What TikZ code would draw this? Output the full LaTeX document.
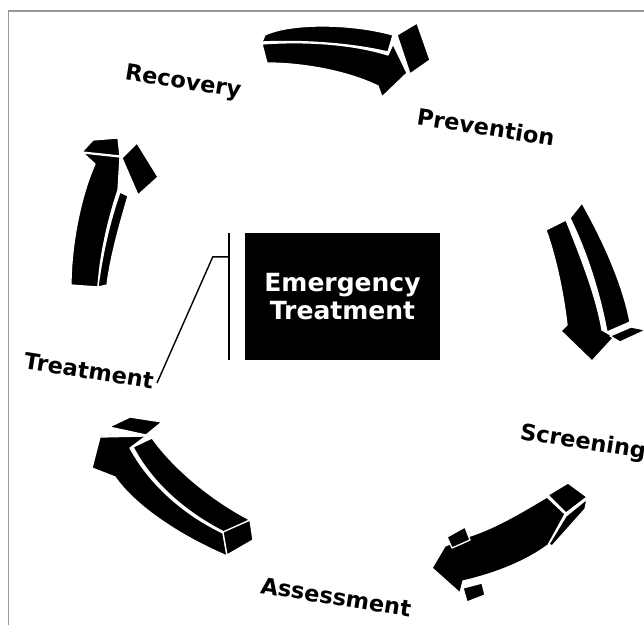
\documentclass[tikz,border=0pt]{standalone}
\usepackage{fontspec}
\setmainfont{DejaVu Sans}
\usetikzlibrary{positioning}
\tikzset{
    centerbox/.style = {rectangle, fill=black, text=white, minimum width=195pt, minimum height=127pt, inner sep=0pt, align=center, font=\bfseries\fontsize{25}{28}\selectfont},
    cyclabel/.style = {inner sep=0pt, rotate=-9, font=\bfseries\fontsize{22.5}{26}\selectfont},
    face/.style = {fill=black, draw=white, line width=1.3pt, line join=round},
    bracket/.style = {line width=1.4pt, black}
}
\begin{document}
\begin{tikzpicture}[x=1pt,y=-1pt]
    \useasboundingbox (0,0) rectangle (644,624);
    \fill[white] (0,0) rectangle (644,624);
    \draw[gray!80, line width=1.2pt] (8.5,11) rectangle (700,700);

    % top arrow
    \path[face] (265,35) .. controls (290,23) and (350,23) .. (393,35) -- (388,52) .. controls (350,43) and (300,40) .. (262,42) -- cycle;
    \path[face] (262,44) .. controls (300,41) and (350,43) .. (388,55) -- (393,44) -- (407,73) -- (382,97) -- (378,86) .. controls (345,70) and (300,63) .. (267,63) -- cycle;
    \path[face] (397,35) -- (417,23) -- (430,60) -- (410,74) -- cycle;

    % right arrow
    \path[face] (546,230) -- (566,220) .. controls (580,255) and (596,295) .. (602,330) -- (614,337) -- (592,361) -- (561,331) -- (567,325) .. controls (563,290) and (555,255) .. (546,230) -- cycle;
    \path[face] (570,218) -- (582,203) .. controls (600,235) and (622,280) .. (630,322) -- (607,332) .. controls (600,295) and (588,255) .. (570,218) -- cycle;
    \path[face] (610,336) -- (631,327) -- (646,330) -- (620,342) -- cycle;

    % lower right arrow
    \path[face] (547,497) -- (565,514) -- (548,545) .. controls (528,560) and (498,573) .. (463,581) -- (460,593) -- (432,568) -- (445,546) -- (470,536) .. controls (495,528) and (522,512) .. (547,497) -- cycle;
    \path[face] (548,495) -- (568,483) -- (587,497) -- (566,513) -- cycle;
    \path[face] (566,516) -- (587,499) -- (585,509) -- (552,546) -- (549,544) -- cycle;
    \path[face] (447,537) -- (465,527) -- (470,540) -- (452,548) -- cycle;
    \path[face] (463,588) -- (482,583) -- (485,595) -- (467,602) -- cycle;

    % lower left arrow
    \path[face] (100,437) -- (146,436) -- (130,448) .. controls (150,485) and (185,515) .. (223,533) -- (227,556) .. controls (180,536) and (135,506) .. (115,477) -- (92,468) -- cycle;
    \path[face] (133,447) -- (152,438) .. controls (175,470) and (212,500) .. (250,520) -- (224,532) .. controls (187,513) and (153,485) .. (133,447) -- cycle;
    \path[face] (109,427) -- (130,417) -- (162,422) -- (146,435) -- cycle;
    \path[face] (223,532) -- (250,520) -- (253,540) -- (227,555) -- cycle;

    % left arrow
    \path[face] (83,153) -- (120,157) -- (118,190) .. controls (108,220) and (100,255) .. (98,287) -- (71,285) .. controls (71,250) and (79,200) .. (95,164) -- cycle;
    \path[face] (120,192) -- (128,196) .. controls (118,230) and (110,260) .. (107,285) -- (98,287) .. controls (102,255) and (110,220) .. (120,192) -- cycle;
    \path[face] (82,152) -- (93,140) -- (118,138) -- (120,156) -- cycle;
    \path[face] (122,158) -- (137,143) -- (158,177) -- (138,195) -- cycle;

    % labels
    \node[cyclabel] (recovery) at (183,83) {Recovery};
    \node[cyclabel] (prevention) at (486,127) {Prevention};
    \node[cyclabel] (screening) at (583,443) {Screening};
    \node[cyclabel] (assessment) at (336,597) {Assessment};
    \node[cyclabel] (treat) at (89,371) {Treatment};

    \node[centerbox] (box) at (342.5,296.5) {Emergency\\Treatment};

    \coordinate (tend) at (157,383);
    \draw[bracket] ([xshift=-16pt]box.north west) -- ([xshift=-16pt]box.south west);
    \draw[bracket] ([xshift=-16pt,yshift=-24pt]box.north west) -- ++(-16,0) -- (tend);
\end{tikzpicture}
\end{document}
